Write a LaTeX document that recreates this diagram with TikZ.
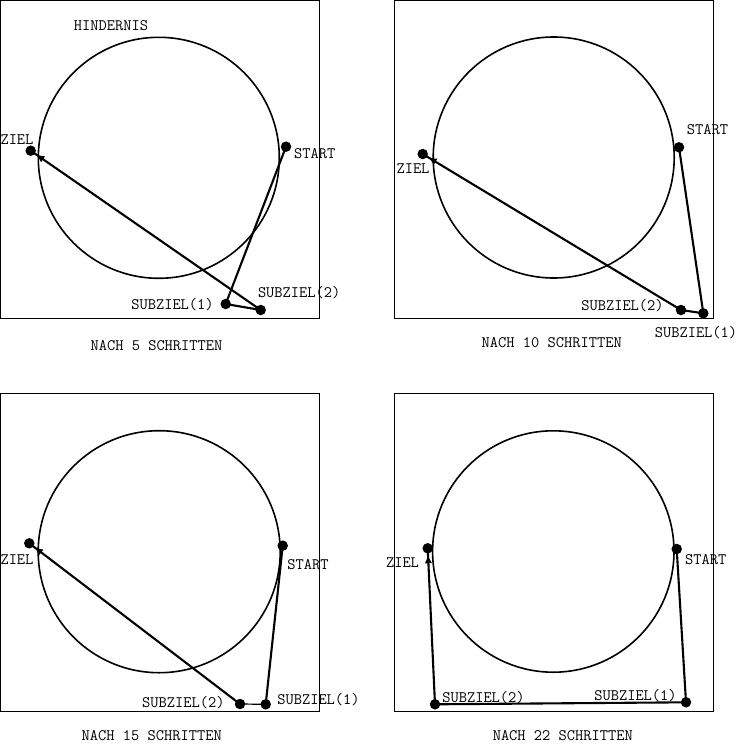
\documentclass[tikz,border=0pt]{standalone}
\usetikzlibrary{arrows.meta,decorations.markings}
\begin{document}
\begin{tikzpicture}[x=1pt,y=-1pt,
  frame/.style={draw,line width=1pt},
  obstacle/.style={draw,line width=1.6pt},
  pathline/.style={line width=2.1pt},
  goalpath/.style={line width=2.1pt,postaction={decorate},
    decoration={markings,mark=at position -8pt with {\arrow{Triangle[length=7pt,width=6.5pt]}}}},
  dot/.style={circle,fill,inner sep=0pt,minimum size=10.5pt},
  lbl/.style={font=\ttfamily\fontsize{16}{16}\selectfont,inner sep=0pt,text height=9.8pt,text depth=0pt,anchor=center}]
\useasboundingbox (0,0) rectangle (737,744);
\fill[white] (0,0) rectangle (737,744);

% ---------- Panel 1 ----------
\draw[frame] (0.5,0.5) rectangle (319,318);
\draw[obstacle] (158.8,157.8) circle[radius=120.5];
\node[lbl] (h1) at (111,25.7) {HINDERNIS};
\node[dot] (z1) at (30.7,150.7) {};
\node[dot] (st1) at (286,146.7) {};
\node[dot] (a1) at (225.7,304) {};
\node[dot] (b1) at (260.7,310) {};
\draw[pathline] (st1.center) -- (a1.center) -- (b1.center);
\draw[goalpath] (b1.center) -- (z1.center);
\node[lbl] at (17,140) {ZIEL};
\node[lbl] at (314.7,153.3) {START};
\node[lbl] at (172.5,304.3) {SUBZIEL(1)};
\node[lbl] at (299.2,292.3) {SUBZIEL(2)};
\node[lbl] at (156.5,346) {NACH 5 SCHRITTEN};

% ---------- Panel 2 ----------
\draw[frame] (394,0.5) rectangle (713.3,318);
\draw[obstacle] (553.7,157.5) circle[radius=120.5];
\node[dot] (z2) at (422.7,154) {};
\node[dot] (st2) at (679,147.3) {};
\node[dot] (a2) at (703.3,313.3) {};
\node[dot] (b2) at (681,310) {};
\draw[pathline] (st2.center) -- (a2.center) -- (b2.center);
\draw[goalpath] (b2.center) -- (z2.center);
\node[lbl] at (413,168.3) {ZIEL};
\node[lbl] at (707.5,130) {START};
\node[lbl] at (622.5,305.7) {SUBZIEL(2)};
\node[lbl] at (696,332.7) {SUBZIEL(1)};
\node[lbl] at (551.7,342.3) {NACH 10 SCHRITTEN};

% ---------- Panel 3 ----------
\draw[frame] (0.5,393.3) rectangle (319,711);
\draw[obstacle] (159.2,551.7) circle[radius=121];
\node[dot] (z3) at (29.3,543.3) {};
\node[dot] (st3) at (282.7,545.7) {};
\node[dot] (a3) at (265.7,704.3) {};
\node[dot] (b3) at (240,704) {};
\draw[pathline] (st3.center) -- (a3.center);
\draw[line width=1.2pt] (a3.center) -- (b3.center);
\draw[goalpath] (b3.center) -- (z3.center);
\node[lbl] at (17,560) {ZIEL};
\node[lbl] at (308,564.3) {START};
\node[lbl] at (183.3,702.7) {SUBZIEL(2)};
\node[lbl] at (318.5,700) {SUBZIEL(1)};
\node[lbl] at (151.7,736) {NACH 15 SCHRITTEN};

% ---------- Panel 4 ----------
\draw[frame] (394,393.3) rectangle (713.3,711);
\draw[obstacle] (553.3,551.5) circle[radius=120.7];
\node[dot] (z4) at (427.7,548.3) {};
\node[dot] (st4) at (676.7,549) {};
\node[dot] (a4) at (686,702.3) {};
\node[dot] (b4) at (435,704.3) {};
\draw[pathline] (st4.center) -- (a4.center) -- (b4.center);
\draw[goalpath] (b4.center) -- (z4.center);
\node[lbl] at (402.5,562.7) {ZIEL};
\node[lbl] at (705.8,560) {START};
\node[lbl] at (483.5,697.7) {SUBZIEL(2)};
\node[lbl] at (635.5,695.7) {SUBZIEL(1)};
\node[lbl] at (562.8,736) {NACH 22 SCHRITTEN};
\end{tikzpicture}
\end{document}
